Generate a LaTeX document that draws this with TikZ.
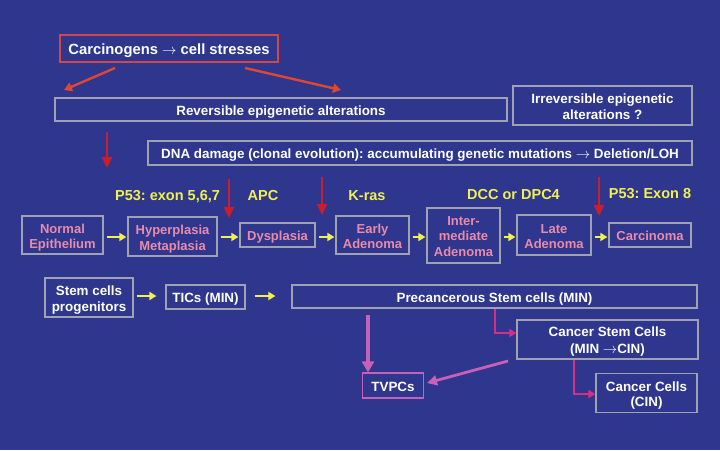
\documentclass[tikz,border=0pt]{standalone}
\usepackage{fontspec}
\setmainfont{Liberation Sans}
\usetikzlibrary{arrows.meta,calc}
\frenchspacing
\definecolor{bg}{RGB}{46,54,142}
\definecolor{gbord}{RGB}{160,162,180}
\definecolor{rbord}{RGB}{210,70,70}
\definecolor{orred}{RGB}{222,72,50}
\definecolor{crim}{RGB}{200,30,45}
\definecolor{yel}{RGB}{240,240,80}
\definecolor{pinktxt}{RGB}{232,140,170}
\definecolor{mag}{RGB}{215,45,135}
\definecolor{orch}{RGB}{200,96,184}
\tikzset{
  box/.style={font=\bfseries\fontsize{13.4}{15.5}\selectfont, inner sep=0pt, align=center,
    draw=gbord, line width=1.2pt, text=white,
    execute at begin node={\rule{0pt}{15pt}},
    execute at end node={\rule[-4pt]{0pt}{4pt}}},
  twoline/.style={execute at begin node={\rule{0pt}{31pt}}},
  threeline/.style={execute at begin node={\rule{0pt}{45pt}}},
  stage/.style={box, text=pinktxt, font=\bfseries\fontsize{13}{15.5}\selectfont},
  lab/.style={inner sep=0pt, text=yel, font=\bfseries\fontsize{14.5}{16}\selectfont},
  yarr/.style={draw=yel, line width=2.1pt, -{Triangle[width=8pt,length=7pt]}},
  rarr/.style={draw=orred, line width=2.4pt, -{Triangle[width=9pt,length=8pt]}},
  carr/.style={draw=crim, line width=2.6pt, -{Triangle[width=10pt,length=11pt]}},
  marr/.style={draw=mag, line width=2.3pt, -{Triangle[width=8pt,length=7pt]}},
  oarr/.style={draw=orch, line width=3.8pt, -{Triangle[width=12pt,length=11pt]}},
}
\begin{document}
\begin{tikzpicture}[x=1pt,y=-1pt]
\fill[bg] (0,0) rectangle (720,450);
\useasboundingbox (0,0) rectangle (720,450);

% top boxes
\node[box, draw=rbord, font=\bfseries\fontsize{14.8}{17}\selectfont, minimum width=218pt, minimum height=27pt] (carc) at (169,48.5) {Carcinogens $\rightarrow$ cell stresses};
\node[box, minimum width=452pt, minimum height=23pt] (rev) at (281,109.5) {Reversible epigenetic alterations};
\node[box, twoline, minimum width=179pt, minimum height=39pt] (irr) at (602.5,105.5) {Irreversible epigenetic\\alterations ?};
\node[box, minimum width=544pt, minimum height=24pt] (dna) at (420,153) {DNA damage (clonal evolution): accumulating genetic mutations $\rightarrow$ Deletion/LOH};

% labels
\node[lab, anchor=base west] (l1) at (115,200) {P53: exon 5,6,7};
\node[lab, anchor=base] (l2) at (263,200) {APC};
\node[lab, anchor=base] (l3) at (367,200) {K-ras};
\node[lab, anchor=base] (l4) at (513.5,199) {DCC or DPC4};
\node[lab, anchor=base] (l5) at (650,198) {P53: Exon 8};

% stages
\node[stage, twoline, minimum width=81pt, minimum height=38pt] (norm) at (62.5,235) {Normal\\Epithelium};
\node[stage, twoline, minimum width=89pt, minimum height=39pt] (hyp) at (172.5,236.5) {Hyperplasia\\Metaplasia};
\node[stage, minimum width=75pt, minimum height=24pt] (dys) at (277.5,235) {Dysplasia};
\node[stage, twoline, minimum width=73pt, minimum height=38pt] (early) at (372.5,235) {Early\\Adenoma};
\node[stage, threeline, minimum width=73pt, minimum height=55pt] (inter) at (463.5,235.5) {Inter-\\mediate\\Adenoma};
\node[stage, twoline, minimum width=74pt, minimum height=40pt] (late) at (554,235) {Late\\Adenoma};
\node[stage, minimum width=82pt, minimum height=24pt] (carcin) at (650,235) {Carcinoma};

% stem row
\node[box, twoline, minimum width=88pt, minimum height=39pt] (stem) at (89,297.5) {Stem cells\\progenitors};
\node[box, minimum width=79pt, minimum height=24pt] (tic) at (205.5,297) {TICs (MIN)};
\node[box, minimum width=405pt, minimum height=23pt] (pre) at (494.5,296.5) {Precancerous Stem cells (MIN)};
\node[box, twoline, font=\bfseries\fontsize{13.4}{16.8}\selectfont, execute at begin node={\rule{0pt}{32.5pt}}, minimum width=181pt, minimum height=39pt] (csc) at (607.5,339.5) {Cancer Stem Cells\\(MIN $\rightarrow$CIN)};
\node[box, twoline, minimum width=101pt, minimum height=39pt] (cc) at (646.5,393) {Cancer Cells\\(CIN)};
\node[box, draw=orch, minimum width=61pt, minimum height=25pt] (tvp) at (393,385.5) {TVPCs};

% carcinogen arrows
\coordinate (c1s) at (115,68); \coordinate (c1e) at (64,90);
\coordinate (c2s) at (245,68); \coordinate (c2e) at (341,90);
\draw[rarr] (c1s) -- (c1e);
\draw[rarr] (c2s) -- (c2e);

% crimson vertical arrows
\coordinate (v1s) at (107,132); \coordinate (v1e) at (107,168);
\coordinate (v2s) at (229,179); \coordinate (v2e) at (229,218);
\coordinate (v3s) at (322,177); \coordinate (v3e) at (322,215);
\coordinate (v4s) at (599,177); \coordinate (v4e) at (599,216);
\draw[carr] (v1s) -- (v1e);
\draw[carr] (v2s) -- (v2e);
\draw[carr] (v3s) -- (v3e);
\draw[carr] (v4s) -- (v4e);

% yellow progression arrows
\draw[yarr, shorten <=3pt, shorten >=1pt] (norm.east |- 0,237) -- (hyp.west |- 0,237);
\draw[yarr, shorten <=3pt, shorten >=1pt] (hyp.east |- 0,237) -- (dys.west |- 0,237);
\draw[yarr, shorten <=3pt, shorten >=1pt] (dys.east |- 0,237) -- (early.west |- 0,237);
\draw[yarr, shorten <=3pt, shorten >=1pt] (early.east |- 0,237) -- (inter.west |- 0,237);
\draw[yarr, shorten <=3pt, shorten >=1pt] (inter.east |- 0,237) -- (late.west |- 0,237);
\draw[yarr, shorten <=3pt, shorten >=1pt] (late.east |- 0,237) -- (carcin.west |- 0,237);
\draw[yarr, shorten <=3pt, shorten >=9pt] (stem.east |- 0,296) -- (tic.west |- 0,296);
\draw[yarr, shorten <=9pt, shorten >=16pt] (tic.east |- 0,296) -- (pre.west |- 0,296);

% magenta elbow arrows
\draw[marr] (pre.south -| 495,0) |- (csc.west |- 0,333);
\draw[marr] (csc.south -| 574,0) |- (cc.west |- 0,394);

% orchid arrows
\draw[oarr] (368,315) -- (tvp.north -| 368,0);
\coordinate (o2s) at (508,361);
\draw[oarr, line width=2.8pt, -{Triangle[width=10pt,length=10pt]}] (o2s) -- (427,383);
\end{tikzpicture}
\end{document}
